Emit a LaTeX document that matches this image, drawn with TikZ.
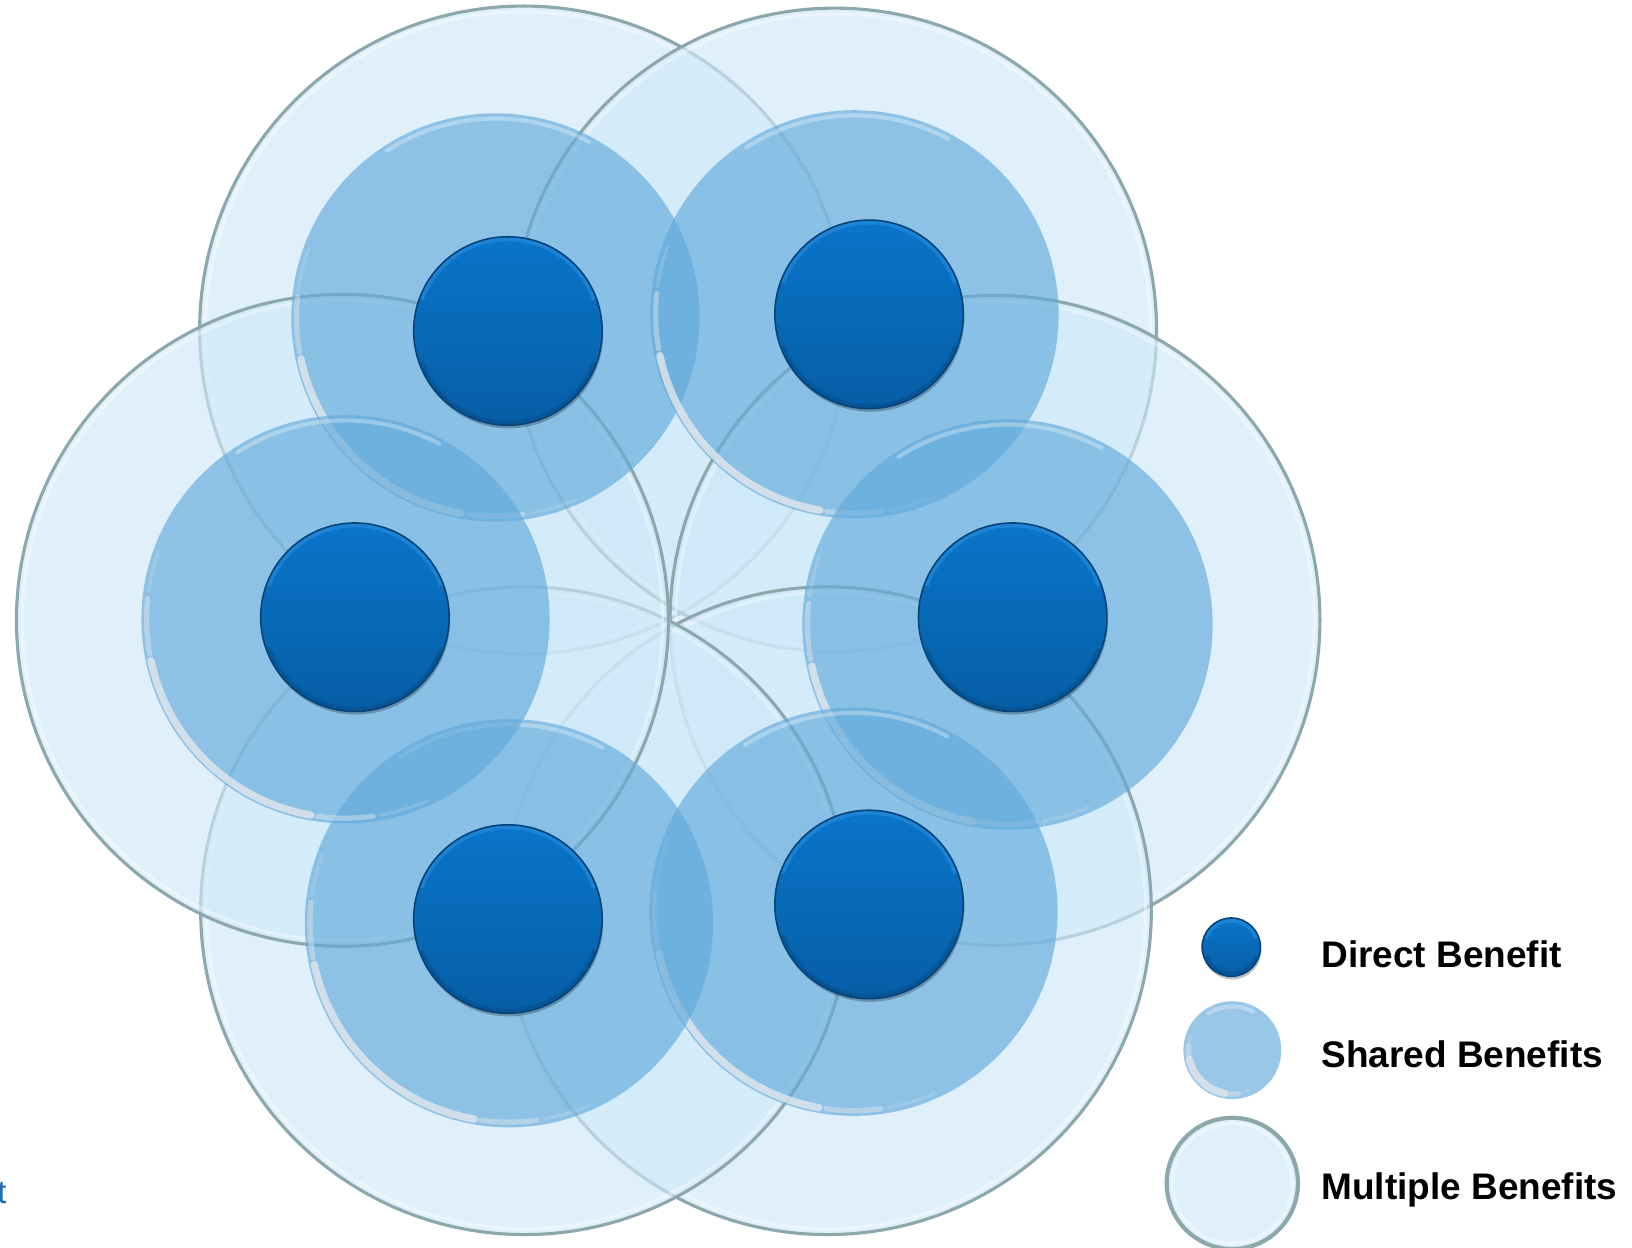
\documentclass[tikz,border=0pt]{standalone}
\usepackage{fontspec}
\setmainfont{Liberation Sans}
\usetikzlibrary{shadows}
\definecolor{largefill}{RGB}{207,233,249}
\definecolor{largeedge}{RGB}{141,168,172}
\definecolor{medfill}{RGB}{98,170,219}
\definecolor{rimgray}{RGB}{226,231,235}
\definecolor{darktop}{RGB}{10,117,202}
\definecolor{darkbottom}{RGB}{6,94,165}
\definecolor{darkedge}{RGB}{4,66,120}
\definecolor{darkhi}{RGB}{40,142,222}
\definecolor{darklo}{RGB}{4,78,140}
\definecolor{tblue}{RGB}{30,110,180}
\begin{document}
\begin{tikzpicture}[x=0.01cm,y=0.01cm,
  multi/.style={circle, inner sep=0pt, minimum size={2*#1}, fill=largefill, fill opacity=0.65,
    draw=largeedge, draw opacity=1, line width=0.03cm,
    path picture={\draw[white, draw opacity=0.38, line width=0.03cm]
      (path picture bounding box.center) circle[radius={#1-0.055cm}];}},
  shared/.style={circle, inner sep=0pt, minimum size={2*#1}, fill=medfill, fill opacity=0.65, draw=none,
    path picture={
      \draw[rimgray, draw opacity=0.8, line width=0.07cm, line cap=round]
        (path picture bounding box.center) ++(192:{#1-0.05cm}) arc[start angle=192, end angle=260, radius={#1-0.05cm}];
      \draw[rimgray, draw opacity=0.45, line width=0.05cm, line cap=round]
        (path picture bounding box.center) ++(174:{#1-0.05cm}) arc[start angle=174, end angle=190, radius={#1-0.05cm}];
      \draw[rimgray, draw opacity=0.45, line width=0.05cm, line cap=round]
        (path picture bounding box.center) ++(262:{#1-0.05cm}) arc[start angle=262, end angle=278, radius={#1-0.05cm}];
      \draw[rimgray, draw opacity=0.2, line width=0.03cm, line cap=round]
        (path picture bounding box.center) ++(160:{#1-0.05cm}) arc[start angle=160, end angle=172, radius={#1-0.05cm}];
      \draw[rimgray, draw opacity=0.2, line width=0.03cm, line cap=round]
        (path picture bounding box.center) ++(280:{#1-0.05cm}) arc[start angle=280, end angle=294, radius={#1-0.05cm}];
      \draw[white, draw opacity=0.3, line width=0.04cm, line cap=round]
        (path picture bounding box.center) ++(62:{#1-0.05cm}) arc[start angle=62, end angle=123, radius={#1-0.05cm}];
    }},
  direct/.style={circle, inner sep=0pt, minimum size={2*#1}, top color=darktop, bottom color=darkbottom,
    draw=darkedge, line width=0.015cm,
    drop shadow={opacity=0.25, shadow xshift=0.01cm, shadow yshift=-0.03cm, fill=black},
    path picture={
      \draw[darkhi, draw opacity=0.6, line width=0.035cm]
        (path picture bounding box.center) ++(20:{#1-0.025cm}) arc[start angle=20, end angle=160, radius={#1-0.025cm}];
      \draw[darklo, draw opacity=0.6, line width=0.035cm]
        (path picture bounding box.center) ++(200:{#1-0.025cm}) arc[start angle=200, end angle=340, radius={#1-0.025cm}];
    }},
  legtext/.style={font=\fontsize{10.1}{12}\selectfont\bfseries, inner sep=0pt, text=black, anchor=base west}
]
\useasboundingbox (0,0) rectangle (1568,1199);
\fill[white] (0,0) rectangle (1568,1199);

% multiple benefits (large)
\node[multi=3.11cm] (mTL) at (503,882) {};
\node[multi=3.09cm] (mTR) at (802,882) {};
\node[multi=3.12cm] (mR)  at (956,603) {};
\node[multi=3.11cm] (mBR) at (795,324) {};
\node[multi=3.11cm] (mBL) at (504,324) {};
\node[multi=3.13cm] (mL)  at (329,603) {};

% shared benefits (medium)
\node[shared=1.96cm] (sTL) at (476,894) {};
\node[shared=1.96cm] (sTR) at (821,897) {};
\node[shared=1.97cm] (sR)  at (968,599) {};
\node[shared=1.96cm] (sBR) at (820,323) {};
\node[shared=1.96cm] (sBL) at (489,312) {};
\node[shared=1.96cm] (sL)  at (332,604) {};

% direct benefits (dark)
\node[direct=0.905cm] (dTL) at (488,881) {};
\node[direct=0.905cm] (dTR) at (835,897) {};
\node[direct=0.905cm] (dL)  at (341,606) {};
\node[direct=0.905cm] (dR)  at (973,606) {};
\node[direct=0.905cm] (dBL) at (488,316) {};
\node[direct=0.905cm] (dBR) at (835,330) {};

% legend
\node[direct=0.28cm] (lgD) at (1183,289) {};
\node[shared=0.47cm] (lgS) at (1184,190) {};
\node[multi=0.63cm, line width=0.04cm] (lgM) at (1184,62) {};
\node[legtext] (tD) at (1269,269) {Direct Benefit};
\node[legtext] (tS) at (1269,173) {Shared Benefits};
\node[legtext] (tM) at (1269,47) {Multiple Benefits};

% cut-off text at left edge
\node[anchor=base east, inner sep=0pt, text=tblue, font=\fontsize{9}{11}\selectfont] (cut) at (7,43) {t};
\end{tikzpicture}
\end{document}
